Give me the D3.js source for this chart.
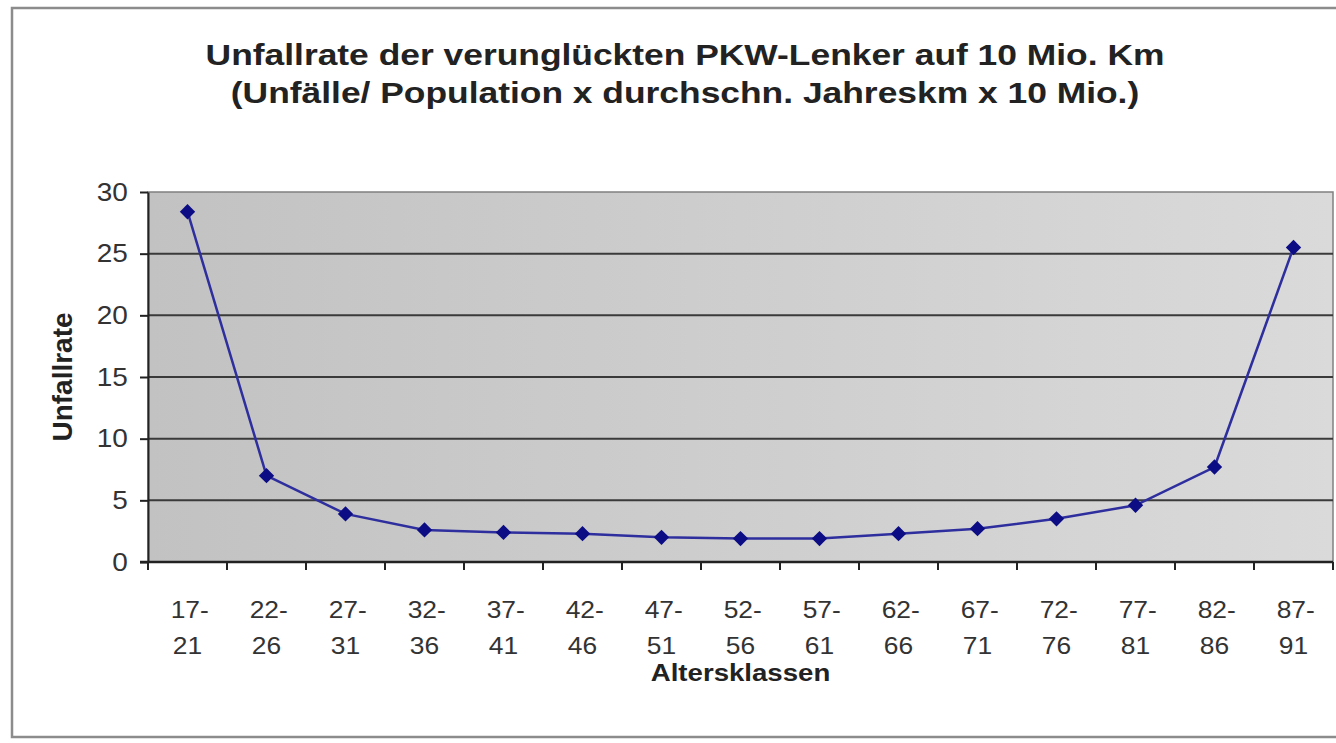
<!DOCTYPE html>
<html>
<head>
<meta charset="utf-8">
<script src="https://cdn.jsdelivr.net/npm/d3@7"></script>
<style>
  body { margin: 0; background: #fff; }
  svg { display: block; font-family: "Liberation Sans", Arial, sans-serif; }
</style>
</head>
<body>
<div id="chart"></div>
<script>
const ageFrom = ["17-", "22-", "27-", "32-", "37-", "42-", "47-", "52-", "57-", "62-", "67-", "72-", "77-", "82-", "87-"];
const ageTo = ["21", "26", "31", "36", "41", "46", "51", "56", "61", "66", "71", "76", "81", "86", "91"];
const rates = [28.4, 7.0, 3.9, 2.6, 2.4, 2.3, 2.0, 1.9, 1.9, 2.3, 2.7, 3.5, 4.6, 7.7, 25.5];
const yTicks = [0, 5, 10, 15, 20, 25, 30];
const titleLines = [
    "Unfallrate der verunglückten PKW-Lenker auf 10 Mio. Km",
    "(Unfälle/ Population x durchschn. Jahreskm x 10 Mio.)"
];

const width = 1336, height = 743;
const margin = { top: 192, right: 3, bottom: 181, left: 148 };
// the source picture is a bit wider than tall, so text gets stretched sideways
const stretch = 1.15;

const svg = d3.select("#chart").append("svg")
    .attr("width", width)
    .attr("height", height);

// outer frame
svg.append("rect")
    .attr("x", 12).attr("y", 8)
    .attr("width", width + 10).attr("height", 729)
    .attr("fill", "#fff")
    .attr("stroke", "#8c8c8c")
    .attr("stroke-width", 2.5);

const x = d3.scaleBand()
    .domain(ageTo.map((d, i) => i))
    .range([margin.left, width - margin.right]);

const y = d3.scaleLinear()
    .domain([0, 30])
    .range([height - margin.bottom, margin.top]);

const grad = svg.append("defs").append("linearGradient")
    .attr("id", "bg").attr("x1", 0).attr("x2", 1).attr("y1", 0).attr("y2", 0);
grad.append("stop").attr("offset", 0).attr("stop-color", "#c2c2c2");
grad.append("stop").attr("offset", 1).attr("stop-color", "#dadada");

svg.append("rect")
    .attr("x", margin.left).attr("y", y(30))
    .attr("width", x.range()[1] - margin.left)
    .attr("height", y(0) - y(30))
    .attr("fill", "url(#bg)")
    .attr("stroke", "#808080")
    .attr("stroke-width", 1.5);

// gridlines
svg.append("g")
    .selectAll("line")
    .data(yTicks.filter(d => d > 0 && d < 30))
    .join("line")
    .attr("x1", margin.left).attr("x2", x.range()[1])
    .attr("y1", d => y(d)).attr("y2", d => y(d))
    .attr("stroke", "#3a3a3a")
    .attr("stroke-width", 2);

// y axis
const yAxis = svg.append("g")
    .attr("transform", `translate(${margin.left},0)`)
    .call(d3.axisLeft(y).tickValues(yTicks).tickSize(8).tickPadding(10).tickSizeOuter(0));
yAxis.select(".domain").attr("stroke", "#222").attr("stroke-width", 2);
yAxis.selectAll(".tick line").attr("stroke", "#222").attr("stroke-width", 2);
yAxis.selectAll("text")
    .attr("font-size", 25)
    .attr("fill", "#333")
    .attr("transform", `scale(${stretch - 0.03},1)`);

// x axis
const xAxis = svg.append("g")
    .attr("transform", `translate(0,${y(0)})`);
xAxis.append("line")
    .attr("x1", margin.left - 8).attr("x2", x.range()[1])
    .attr("stroke", "#222").attr("stroke-width", 2.5);
xAxis.selectAll(".tk")
    .data(d3.range(ageTo.length + 1))
    .join("line")
    .attr("class", "tk")
    .attr("x1", i => margin.left + i * x.bandwidth())
    .attr("x2", i => margin.left + i * x.bandwidth())
    .attr("y1", 0).attr("y2", 8)
    .attr("stroke", "#222").attr("stroke-width", 2);

const labels = xAxis.selectAll(".lbl")
    .data(ageTo.map((d, i) => i))
    .join("text")
    .attr("class", "lbl")
    .attr("transform", i => `translate(${x(i) + x.bandwidth() / 2},0) scale(${stretch - 0.05},1)`)
    .attr("text-anchor", "middle")
    .attr("font-size", 24)
    .attr("fill", "#333");
labels.append("tspan")
    .attr("x", 2)
    .attr("y", 56)
    .text(i => ageFrom[i]);
labels.append("tspan")
    .attr("x", 0)
    .attr("y", 92)
    .text(i => ageTo[i]);

// titles
svg.append("text")
    .attr("transform", `translate(${(margin.left + x.range()[1]) / 2},681) scale(${stretch},1)`)
    .attr("text-anchor", "middle")
    .attr("font-size", 24)
    .attr("font-weight", "bold")
    .attr("fill", "#222")
    .text("Altersklassen");

svg.append("text")
    .attr("transform", `translate(72,${(y(0) + y(30)) / 2}) rotate(-90)`)
    .attr("text-anchor", "middle")
    .attr("font-size", 28)
    .attr("font-weight", "bold")
    .attr("fill", "#222")
    .text("Unfallrate");

svg.append("g")
    .selectAll("text")
    .data(titleLines)
    .join("text")
    .attr("transform", (d, i) => `translate(685,${65 + i * 38}) scale(${stretch + 0.03},1)`)
    .attr("text-anchor", "middle")
    .attr("font-size", 30)
    .attr("font-weight", "bold")
    .attr("fill", "#222")
    .text(d => d);

// series
const line = d3.line()
    .x((d, i) => x(i) + x.bandwidth() / 2)
    .y(d => y(d));

svg.append("path")
    .datum(rates)
    .attr("fill", "none")
    .attr("stroke", "#2e2e9e")
    .attr("stroke-width", 2.5)
    .attr("d", line);

svg.append("g")
    .selectAll("path")
    .data(rates)
    .join("path")
    .attr("transform", (d, i) => `translate(${x(i) + x.bandwidth() / 2},${y(d)})`)
    .attr("d", d3.symbol(d3.symbolDiamond2, 150))
    .attr("fill", "#0c0c84");
</script>
</body>
</html>
